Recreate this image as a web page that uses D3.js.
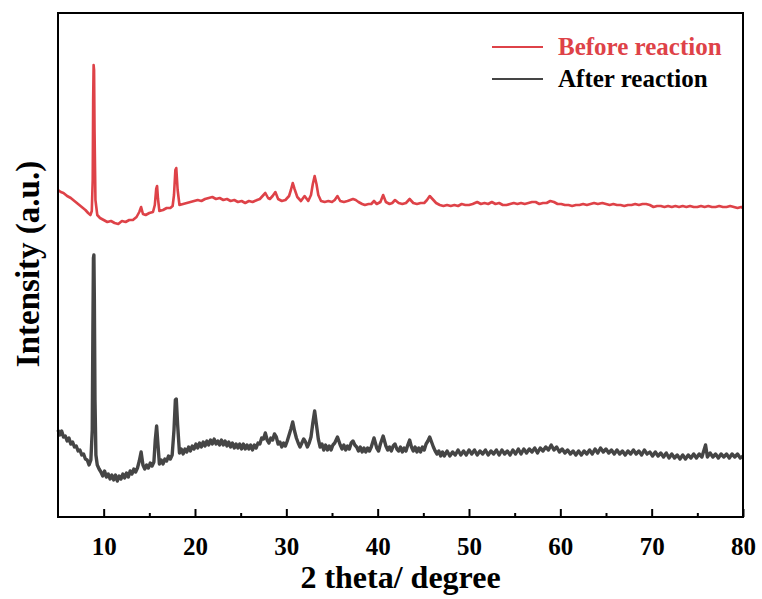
<!DOCTYPE html>
<html>
<head>
<meta charset="utf-8">
<script src="https://cdn.jsdelivr.net/npm/d3@7"></script>
<style>
  body { margin: 0; background: #fff; }
</style>
</head>
<body>
<script>
// XRD patterns, [2 theta, intensity (a.u.)]
const before = [[5.0,327],[5.3,325],[5.6,324],[6.0,321],[6.4,319],[6.8,316],[7.2,313],[7.6,310],[8.0,307],[8.3,304],[8.55,302],[8.7,306],[8.8,337],[8.85,417],[8.9,452],[8.95,447],[9.0,387],[9.1,317],[9.3,302],[9.6,299],[10.0,297],[10.4,295],[10.8,296],[11.2,294],[11.6,293],[12.0,296],[12.4,295],[12.8,297],[13.2,297],[13.6,300],[13.9,305],[14.1,310],[14.3,303],[14.6,302],[15.0,304],[15.4,305],[15.6,312],[15.75,328],[15.85,331],[15.95,318],[16.1,306],[16.5,307],[16.9,309],[17.3,309],[17.55,311],[17.7,322],[17.85,347],[17.95,349],[18.1,327],[18.3,312],[18.7,313],[19.1,314],[19.5,315],[19.9,316],[20.3,317],[20.7,316],[21.1,318],[21.5,319],[21.9,320],[22.3,318],[22.7,319],[23.1,317],[23.5,318],[23.9,316],[24.3,317],[24.7,315],[25.1,316],[25.5,314],[25.9,316],[26.3,315],[26.8,317],[27.1,318],[27.4,321],[27.7,324],[28.0,319],[28.2,318],[28.5,321],[28.8,325],[29.1,318],[29.5,316],[29.9,317],[30.3,321],[30.5,327],[30.7,334],[30.9,328],[31.2,320],[31.6,316],[32.0,321],[32.4,316],[32.7,322],[32.9,333],[33.1,341],[33.3,333],[33.5,322],[33.8,316],[34.2,315],[34.6,316],[35.0,315],[35.3,317],[35.6,321],[35.9,316],[36.3,315],[36.7,316],[37.0,317],[37.3,318],[37.6,317],[37.9,315],[38.3,313],[38.6,312],[39.0,313],[39.3,313],[39.6,316],[39.9,313],[40.3,315],[40.6,322],[40.9,315],[41.3,313],[41.6,314],[41.9,317],[42.3,314],[42.7,313],[43.1,314],[43.5,318],[43.9,314],[44.3,313],[44.7,314],[45.1,314],[45.4,317],[45.7,321],[46.0,318],[46.4,314],[46.8,312],[47.2,311],[47.6,312],[48.0,311],[48.4,312],[48.8,311],[49.2,313],[49.6,312],[50.0,312],[50.4,313],[50.9,315],[51.3,313],[51.7,314],[52.1,313],[52.5,315],[52.9,313],[53.3,314],[53.7,312],[54.1,312],[54.5,313],[54.9,314],[55.3,313],[55.7,314],[56.1,313],[56.5,314],[56.9,315],[57.3,315],[57.7,313],[58.1,314],[58.5,314],[58.9,316],[59.3,315],[59.7,313],[60.1,313],[60.5,312],[60.9,312],[61.3,311],[61.7,312],[62.1,312],[62.5,313],[62.9,312],[63.3,313],[63.7,314],[64.1,313],[64.6,314],[65.0,313],[65.4,312],[65.8,313],[66.2,312],[66.6,312],[67.0,311],[67.4,312],[67.8,312],[68.2,313],[68.6,312],[69.0,313],[69.4,313],[69.8,312],[70.2,310],[70.6,311],[71.0,311],[71.4,310],[71.8,311],[72.2,310],[72.6,311],[73.0,310],[73.4,311],[73.8,310],[74.2,311],[74.6,310],[75.0,310],[75.4,311],[75.8,310],[76.2,311],[76.6,310],[77.0,310],[77.4,311],[77.8,310],[78.2,310],[78.6,311],[79.0,310],[79.4,309],[79.8,310],[80.0,309]];

const after = [[5.0,87],[5.2,82],[5.4,86],[5.6,80],[5.8,81],[6.0,76],[6.2,79],[6.4,73],[6.6,75],[6.8,70],[7.0,71],[7.2,66],[7.4,67],[7.6,62],[7.8,63],[8.0,58],[8.2,57],[8.4,52],[8.6,57],[8.75,87],[8.82,187],[8.88,259],[8.93,262],[8.98,217],[9.05,117],[9.15,62],[9.3,52],[9.5,48],[9.7,45],[9.9,41],[10.1,46],[10.3,40],[10.5,43],[10.7,38],[10.9,42],[11.1,37],[11.3,42],[11.5,36],[11.7,41],[11.9,38],[12.1,43],[12.3,39],[12.5,44],[12.7,40],[12.9,46],[13.1,43],[13.3,48],[13.5,45],[13.7,49],[13.9,56],[14.1,65],[14.3,52],[14.5,48],[14.7,52],[14.9,49],[15.1,54],[15.3,51],[15.5,55],[15.65,77],[15.8,91],[15.95,72],[16.1,53],[16.3,57],[16.5,53],[16.7,58],[16.9,56],[17.1,61],[17.3,58],[17.5,62],[17.7,87],[17.85,117],[17.95,118],[18.1,92],[18.3,64],[18.5,68],[18.7,63],[18.9,68],[19.1,65],[19.3,70],[19.5,66],[19.7,71],[19.9,68],[20.1,73],[20.3,69],[20.5,74],[20.7,70],[20.9,75],[21.1,71],[21.3,76],[21.5,72],[21.7,77],[21.9,73],[22.1,78],[22.3,73],[22.5,76],[22.7,72],[22.9,77],[23.1,72],[23.3,76],[23.5,71],[23.7,75],[23.9,70],[24.1,74],[24.3,69],[24.5,73],[24.7,69],[24.9,73],[25.1,68],[25.3,73],[25.5,68],[25.7,72],[25.9,68],[26.1,72],[26.3,67],[26.5,72],[26.7,69],[26.9,74],[27.1,73],[27.3,79],[27.5,78],[27.7,84],[27.9,77],[28.1,74],[28.3,79],[28.5,77],[28.7,83],[28.9,80],[29.1,73],[29.3,75],[29.5,70],[29.7,74],[29.9,71],[30.1,76],[30.3,82],[30.5,88],[30.7,95],[30.9,86],[31.1,79],[31.3,74],[31.5,70],[31.7,74],[31.9,78],[32.1,75],[32.3,70],[32.5,74],[32.7,80],[32.9,94],[33.1,106],[33.3,92],[33.5,78],[33.7,70],[33.9,73],[34.1,67],[34.3,72],[34.5,67],[34.7,71],[34.9,67],[35.1,72],[35.3,74],[35.6,80],[35.9,72],[36.1,68],[36.3,72],[36.5,67],[36.7,71],[36.9,68],[37.1,74],[37.3,76],[37.5,72],[37.7,70],[37.9,66],[38.1,70],[38.3,65],[38.5,69],[38.7,65],[38.9,69],[39.1,66],[39.3,70],[39.6,79],[39.9,69],[40.1,66],[40.3,73],[40.6,81],[40.9,71],[41.1,67],[41.3,70],[41.5,66],[41.7,71],[41.9,73],[42.1,68],[42.3,66],[42.5,70],[42.7,65],[42.9,69],[43.1,66],[43.3,72],[43.5,77],[43.7,70],[43.9,66],[44.1,70],[44.3,65],[44.5,69],[44.7,65],[44.9,70],[45.1,67],[45.3,73],[45.5,76],[45.7,80],[45.9,75],[46.1,70],[46.3,66],[46.5,63],[46.7,66],[46.9,61],[47.1,65],[47.3,61],[47.6,66],[47.9,61],[48.2,65],[48.5,62],[48.8,67],[49.1,62],[49.4,66],[49.7,62],[50.0,67],[50.3,63],[50.6,67],[50.9,62],[51.2,66],[51.5,63],[51.8,67],[52.1,62],[52.4,66],[52.7,63],[53.0,67],[53.3,62],[53.6,67],[53.9,63],[54.2,66],[54.5,62],[54.8,67],[55.1,63],[55.4,68],[55.7,63],[56.0,68],[56.3,64],[56.6,68],[56.9,65],[57.2,69],[57.5,64],[57.8,69],[58.1,66],[58.4,70],[58.7,67],[59.0,72],[59.3,67],[59.6,70],[59.9,65],[60.2,68],[60.5,64],[60.8,67],[61.1,63],[61.4,66],[61.7,62],[62.0,66],[62.3,62],[62.6,66],[62.9,63],[63.2,67],[63.5,63],[63.8,68],[64.1,64],[64.4,69],[64.7,65],[65.0,68],[65.3,64],[65.6,67],[65.9,63],[66.2,67],[66.5,63],[66.8,66],[67.1,62],[67.4,66],[67.7,63],[68.0,67],[68.3,63],[68.6,66],[68.9,62],[69.2,67],[69.5,63],[69.8,65],[70.1,61],[70.4,65],[70.7,61],[71.0,64],[71.3,60],[71.6,64],[71.9,59],[72.2,63],[72.5,59],[72.8,62],[73.1,58],[73.4,62],[73.7,58],[74.0,62],[74.3,59],[74.6,63],[74.9,59],[75.2,63],[75.5,60],[75.9,72],[76.1,60],[76.4,64],[76.7,60],[77.0,63],[77.3,59],[77.6,63],[77.9,60],[78.2,63],[78.5,59],[78.8,63],[79.1,60],[79.4,63],[79.7,59],[80.0,61]];

const majorTicks = [10, 20, 30, 40, 50, 60, 70, 80];
const minorTicks = [15, 25, 35, 45, 55, 65, 75];
const seriesNames = ['Before reaction', 'After reaction'];
const seriesColors = ['#de4248', '#454545'];
const FONT = '"Liberation Serif", "Times New Roman", serif';

const W = 762, H = 599;
const m = {left: 58, right: 19, top: 13, bottom: 82};

const svg = d3.select('body').append('svg')
    .attr('width', W)
    .attr('height', H)
    .style('font-family', FONT)
    .style('font-weight', 'bold');

const x = d3.scaleLinear().domain([5, 80]).range([m.left, W - m.right]);
const y = d3.scaleLinear().domain([0, 504]).range([H - m.bottom, m.top]);

const line = d3.line()
    .x(function(d){ return x(d[0]); })
    .y(function(d){ return y(d[1]); });

const plot = svg.append('g');
plot.append('path').datum(after)
    .attr('d', line)
    .attr('fill', 'none')
    .attr('stroke', seriesColors[1])
    .attr('stroke-width', 3.4)
    .attr('stroke-linejoin', 'round');
plot.append('path').datum(before)
    .attr('d', line)
    .attr('fill', 'none')
    .attr('stroke', seriesColors[0])
    .attr('stroke-width', 2.6)
    .attr('stroke-linejoin', 'round');

// bottom axis, ticks pointing inward
const xAxis = d3.axisBottom(x)
    .tickValues(majorTicks)
    .tickSize(-8)
    .tickPadding(20)
    .tickFormat(d3.format('d'));
const gx = svg.append('g')
    .attr('transform', 'translate(0,' + (H - m.bottom) + ')')
    .call(xAxis);
gx.select('.domain').remove();
gx.selectAll('.tick line').attr('stroke', '#000').attr('stroke-width', 2);
gx.selectAll('.tick text')
    .attr('fill', '#000')
    .style('font-family', FONT)
    .style('font-weight', 'bold')
    .style('font-size', '25px');

svg.append('g')
    .attr('transform', 'translate(0,' + (H - m.bottom) + ')')
    .call(d3.axisBottom(x).tickValues(minorTicks).tickSize(-4).tickFormat(''))
    .call(function(g){ g.select('.domain').remove(); })
    .selectAll('.tick line').attr('stroke', '#000').attr('stroke-width', 2);

// frame
svg.append('rect')
    .attr('x', m.left)
    .attr('y', m.top)
    .attr('width', W - m.left - m.right)
    .attr('height', H - m.top - m.bottom)
    .attr('fill', 'none')
    .attr('stroke', '#000')
    .attr('stroke-width', 2);

// axis titles
svg.append('text')
    .attr('x', (m.left + W - m.right) / 2)
    .attr('y', 588)
    .attr('text-anchor', 'middle')
    .style('font-size', '32px')
    .text('2 theta/ degree');

svg.append('text')
    .attr('transform', 'translate(39,' + 264 + ') rotate(-90)')
    .attr('text-anchor', 'middle')
    .style('font-size', '33px')
    .text('Intensity (a.u.)');

// legend
const legend = svg.append('g');
seriesNames.forEach(function(name, i){
    const ly = 47 + i * 32;
    legend.append('line')
        .attr('x1', 492).attr('x2', 543)
        .attr('y1', ly).attr('y2', ly)
        .attr('stroke', seriesColors[i])
        .attr('stroke-width', 2);
    legend.append('text')
        .attr('x', 558)
        .attr('y', ly + 8)
        .attr('fill', i === 0 ? seriesColors[0] : '#000')
        .style('font-size', '25px')
        .text(name);
});
</script>
</body>
</html>
